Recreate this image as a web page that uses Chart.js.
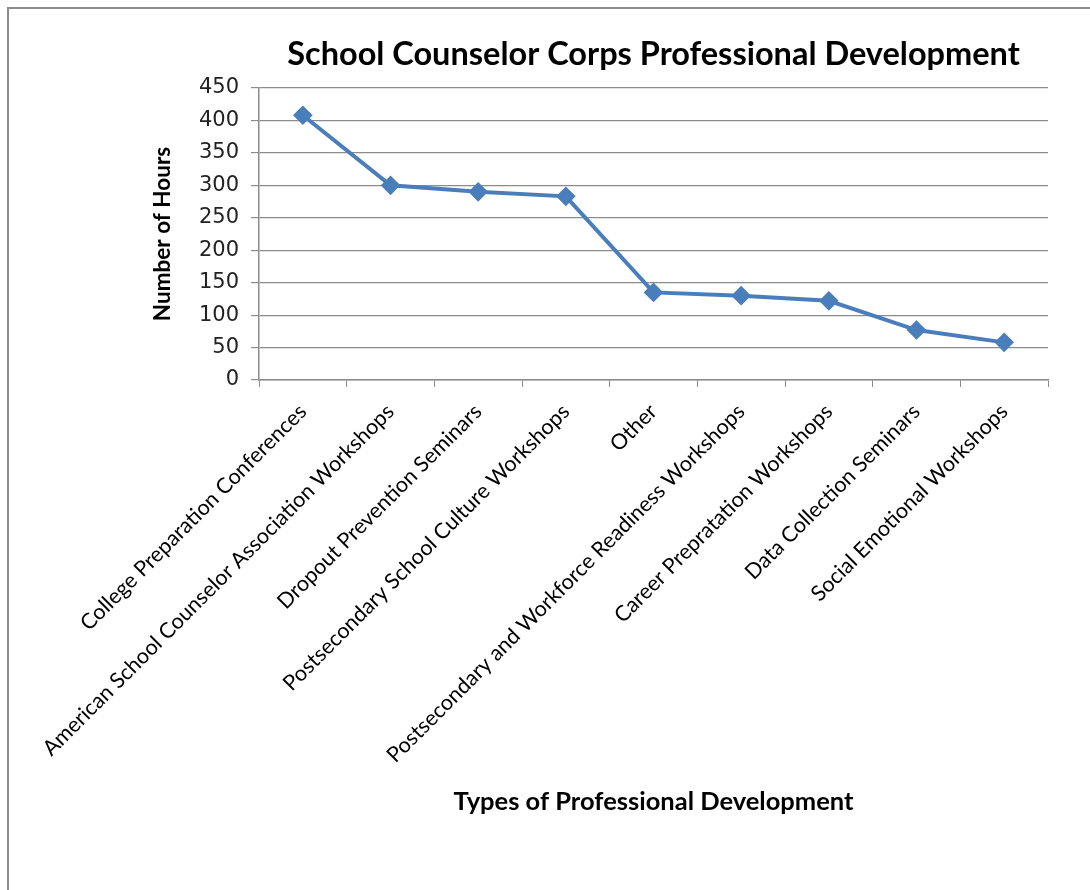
<!DOCTYPE html>
<html>
<head>
<meta charset="utf-8">
<title>School Counselor Corps Professional Development</title>
<script src="https://cdn.jsdelivr.net/npm/chart.js@4.4.1/dist/chart.umd.min.js"></script>
<style>
  html, body { margin: 0; padding: 0; background: #fff; }
  #wrap { width: 1090px; height: 890px; position: relative; }
</style>
</head>
<body>
<div id="wrap"><canvas id="pdChart"></canvas></div>
<script>
// data
const categories = [
    'College Preparation Conferences',
    'American School Counselor Association Workshops',
    'Dropout Prevention Seminars',
    'Postsecondary School Culture Workshops',
    'Other',
    'Postsecondary and Workforce Readiness Workshops',
    'Career Prepratation Workshops',
    'Data Collection Seminars',
    'Social Emotional Workshops'
];
const hours = [408, 300, 290, 283, 135, 130, 122, 77, 58];
const yTicks = [0, 50, 100, 150, 200, 250, 300, 350, 400, 450];

// thin grey frame around the whole chart
const frame = {
    id: 'frame',
    beforeDraw(chart) {
        const ctx = chart.ctx;
        ctx.save();
        ctx.fillStyle = '#fff';
        ctx.fillRect(0, 0, chart.width, chart.height);
        ctx.strokeStyle = '#8c8c8c';
        ctx.lineWidth = 2;
        ctx.strokeRect(8, 8, chart.width + 20, chart.height + 20);
        ctx.restore();
    }
};

// config
const config = {
    type: 'line',
    data: {
        labels: categories,
        datasets: [{
            data: hours,
            borderColor: '#4a7ebb',
            backgroundColor: '#4a7ebb',
            borderWidth: 4,
            pointStyle: 'rectRot',
            pointRadius: 7,
            pointHoverRadius: 7,
            tension: 0
        }]
    },
    options: {
        responsive: true,
        maintainAspectRatio: false,
        animation: false,
        layout: { padding: { left: 140, right: 42, top: 31, bottom: 62 } },
        plugins: {
            legend: { display: false },
            tooltip: { enabled: false },
            title: {
                display: true,
                fullSize: false,
                text: 'School Counselor Corps Professional Development',
                color: '#000',
                font: { family: 'Lato', size: 32.5, weight: 'bold' },
                padding: { top: 4, bottom: 14 }
            }
        },
        scales: {
            x: {
                offset: true,
                grid: {
                    offset: true,
                    drawOnChartArea: false,
                    drawTicks: true,
                    tickLength: 7,
                    color: '#8c8c8c'
                },
                border: { color: '#8c8c8c', width: 1.5 },
                ticks: {
                    autoSkip: false,
                    minRotation: 45,
                    maxRotation: 45,
                    color: '#000',
                    padding: 12,
                    font: { family: 'Lato', size: 21.5 }
                },
                title: {
                    display: true,
                    text: 'Types of Professional Development',
                    color: '#000',
                    font: { family: 'Lato', size: 25.5, weight: 'bold' },
                    padding: { top: 4, bottom: 11 }
                },
                afterFit(scale) { scale.height = 890 - 380 - 62; }
            },
            y: {
                min: 0,
                max: 450,
                afterBuildTicks(scale) { scale.ticks = yTicks.map(v => ({ value: v })); },
                grid: { color: '#8c8c8c', lineWidth: 1.2, tickLength: 8 },
                border: { color: '#8c8c8c', width: 1.5 },
                ticks: {
                    color: '#222',
                    padding: 12,
                    font: { family: 'DejaVu Sans', size: 21 }
                },
                title: {
                    display: true,
                    text: 'Number of Hours',
                    color: '#000',
                    font: { family: 'Lato', size: 22.5, weight: 'bold' },
                    padding: { top: 9, bottom: 20 }
                },
                afterFit(scale) { scale.width = 259 - 140; }
            }
        }
    },
    plugins: [frame]
};

// render init block
const pdChart = new Chart(document.getElementById('pdChart'), config);
</script>
</body>
</html>
